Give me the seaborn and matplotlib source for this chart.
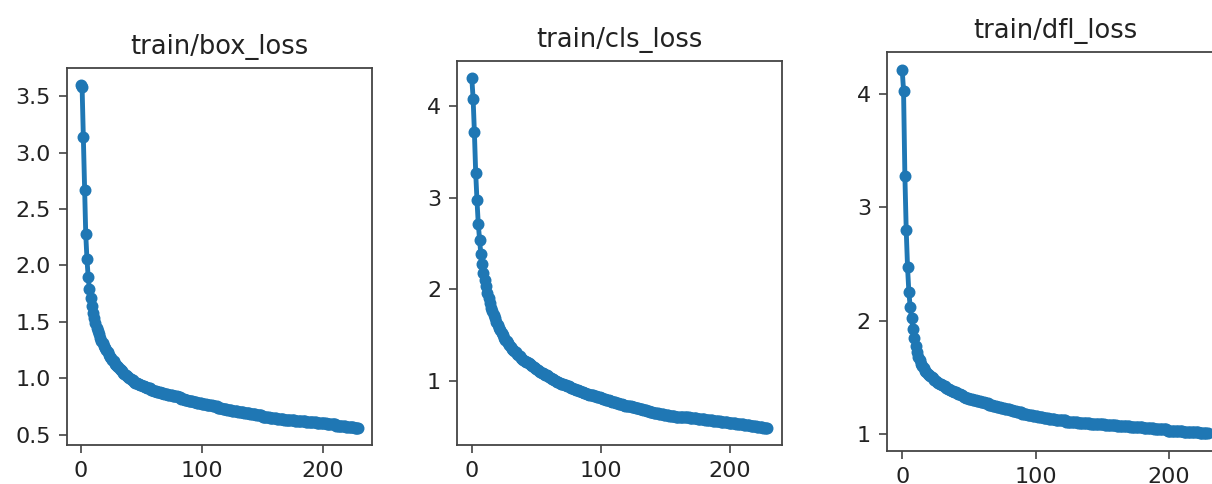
import numpy as np
import matplotlib
matplotlib.use("Agg")
import matplotlib.pyplot as plt
from matplotlib.ticker import MultipleLocator
import seaborn as sns

# valores (una entrada por epoca)
box_loss = [
    3.60, 3.58, 3.14, 2.67, 2.28, 2.06, 1.90, 1.79, 1.71, 1.64, 1.58,
    1.53, 1.49, 1.45, 1.42, 1.39, 1.36, 1.33, 1.31, 1.29, 1.27, 1.25, 1.23,
    1.21, 1.19, 1.18, 1.16, 1.15, 1.13, 1.12, 1.11, 1.10, 1.08, 1.07, 1.06, 1.05, 1.04, 1.03,
    1.02, 1.01, 1.00, 0.99, 0.98, 0.98, 0.97, 0.96, 0.96, 0.95, 0.95, 0.94, 0.94, 0.93, 0.93,
    0.92, 0.92, 0.91, 0.91, 0.91, 0.90, 0.90, 0.89, 0.89, 0.89, 0.88, 0.88, 0.88, 0.87,
    0.87, 0.87, 0.86, 0.86, 0.86, 0.85, 0.85, 0.85, 0.85, 0.84, 0.84, 0.84, 0.84, 0.83, 0.83, 0.83,
    0.82, 0.82, 0.82, 0.81, 0.81, 0.81, 0.80, 0.80, 0.80, 0.80, 0.79, 0.79, 0.79, 0.78, 0.78,
    0.78, 0.78, 0.77, 0.77, 0.77, 0.77, 0.76, 0.76, 0.76, 0.76, 0.76, 0.75,
    0.75, 0.75, 0.75, 0.74, 0.74, 0.74, 0.74, 0.73, 0.73, 0.73, 0.73, 0.72, 0.72, 0.72, 0.72,
    0.71, 0.71, 0.71, 0.71, 0.71, 0.70, 0.70, 0.70, 0.70, 0.70, 0.69, 0.69,
    0.69, 0.69, 0.69, 0.68, 0.68, 0.68, 0.68, 0.68, 0.67, 0.67, 0.67, 0.67, 0.67,
    0.66, 0.66, 0.66, 0.66, 0.66, 0.66, 0.65, 0.65, 0.65, 0.65, 0.65, 0.65, 0.64, 0.64, 0.64,
    0.64, 0.64, 0.64, 0.63, 0.63, 0.63, 0.63, 0.63, 0.63, 0.63, 0.63, 0.63,
    0.62, 0.62, 0.62, 0.62, 0.62, 0.62, 0.62, 0.62, 0.62, 0.61, 0.61, 0.61, 0.61, 0.61, 0.61,
    0.61, 0.61, 0.61, 0.60, 0.60, 0.60, 0.60, 0.60, 0.60, 0.60, 0.60,
    0.59, 0.59, 0.59, 0.59, 0.59, 0.59, 0.59, 0.59, 0.58, 0.58, 0.58, 0.58, 0.58, 0.58, 0.58, 0.58,
    0.57, 0.57, 0.57, 0.57, 0.57, 0.57, 0.57, 0.56, 0.56, 0.56, 0.56,
]

cls_loss = [
    4.30, 4.08, 3.71, 3.27, 2.97, 2.71, 2.54, 2.38, 2.27, 2.18,
    2.10, 2.03, 1.96, 1.90, 1.85, 1.80, 1.76, 1.72, 1.68, 1.64,
    1.61, 1.58, 1.55, 1.52, 1.50, 1.47, 1.45, 1.43, 1.41, 1.39,
    1.37, 1.35, 1.34, 1.32, 1.31, 1.29, 1.28, 1.27, 1.25, 1.24,
    1.23, 1.22, 1.21, 1.20, 1.19,
    1.18, 1.17, 1.16, 1.15, 1.14, 1.13, 1.12, 1.11, 1.10, 1.09, 1.08, 1.07, 1.06,
    1.06, 1.05, 1.04, 1.03, 1.02, 1.02, 1.01, 1.00, 0.99, 0.99, 0.98, 0.97,
    0.96, 0.96, 0.95, 0.95, 0.94, 0.94, 0.93, 0.92, 0.92, 0.91, 0.91, 0.90, 0.90, 0.89, 0.89,
    0.88, 0.88, 0.87, 0.87, 0.86, 0.86, 0.85, 0.85, 0.84, 0.84, 0.83, 0.83, 0.82, 0.82, 0.82, 0.81,
    0.81, 0.80, 0.80, 0.79, 0.79, 0.79, 0.78, 0.78, 0.77, 0.77, 0.77, 0.76, 0.76, 0.75, 0.75, 0.75,
    0.74, 0.74, 0.73, 0.73, 0.73, 0.72, 0.72, 0.71, 0.71, 0.71, 0.70, 0.70, 0.70, 0.69, 0.69, 0.69,
    0.68, 0.68, 0.68, 0.67,
    0.67, 0.66, 0.66, 0.66, 0.65, 0.65, 0.65, 0.65, 0.64, 0.64, 0.64, 0.64, 0.63, 0.63,
    0.63, 0.63, 0.62, 0.62, 0.62, 0.62, 0.62, 0.61, 0.61, 0.61, 0.61, 0.61, 0.60, 0.60, 0.60,
    0.60, 0.60, 0.60, 0.59, 0.59, 0.59, 0.59, 0.59, 0.59, 0.58, 0.58, 0.58, 0.58, 0.58, 0.58,
    0.57, 0.57, 0.57, 0.57, 0.57, 0.57, 0.56, 0.56, 0.56, 0.56, 0.56, 0.56,
    0.55, 0.55, 0.55, 0.55, 0.55, 0.55, 0.54, 0.54, 0.54, 0.54, 0.54, 0.54,
    0.53, 0.53, 0.53, 0.53, 0.53, 0.53, 0.52, 0.52, 0.52, 0.52, 0.52,
    0.51, 0.51, 0.51, 0.51, 0.51, 0.50, 0.50, 0.50, 0.50, 0.50, 0.49, 0.49, 0.49, 0.49,
]

dfl_loss = [
    4.21, 4.03, 3.28, 2.80, 2.47, 2.25, 2.12, 2.02, 1.93, 1.85,
    1.78, 1.72, 1.68, 1.65, 1.62, 1.60, 1.58, 1.56, 1.55, 1.53,
    1.52, 1.51, 1.50, 1.49, 1.48, 1.47, 1.46, 1.45, 1.44, 1.44, 1.43,
    1.42, 1.42, 1.41, 1.40, 1.40, 1.39, 1.38, 1.38, 1.37, 1.37,
    1.36, 1.35, 1.35, 1.34, 1.34, 1.33, 1.33, 1.32, 1.32,
    1.31, 1.31, 1.31, 1.30, 1.30, 1.30, 1.29, 1.29, 1.29, 1.28, 1.28, 1.28,
    1.27, 1.27, 1.27, 1.26, 1.26, 1.26, 1.25, 1.25, 1.25, 1.24, 1.24, 1.24,
    1.23, 1.23, 1.23, 1.22, 1.22, 1.22, 1.22, 1.21, 1.21,
    1.20, 1.20, 1.20, 1.19, 1.19, 1.19, 1.19, 1.18, 1.18, 1.18, 1.18,
    1.17, 1.17, 1.17, 1.17, 1.16, 1.16, 1.16, 1.16, 1.15, 1.15, 1.15, 1.15,
    1.14, 1.14, 1.14, 1.14, 1.13, 1.13, 1.13, 1.13, 1.13,
    1.12, 1.12, 1.12, 1.12, 1.12, 1.12, 1.12, 1.12,
    1.11, 1.11, 1.11, 1.11, 1.11, 1.11, 1.11, 1.11, 1.11,
    1.10, 1.10, 1.10, 1.10, 1.10, 1.10, 1.10, 1.10, 1.10,
    1.09, 1.09, 1.09, 1.09, 1.09, 1.09, 1.09, 1.09, 1.09, 1.09, 1.09,
    1.08, 1.08, 1.08, 1.08, 1.08, 1.08, 1.08, 1.08, 1.08,
    1.07, 1.07, 1.07, 1.07, 1.07, 1.07, 1.07, 1.07, 1.07, 1.07,
    1.06, 1.06, 1.06, 1.06, 1.06, 1.06, 1.06, 1.06, 1.06, 1.06,
    1.05, 1.05, 1.05, 1.05, 1.05, 1.05, 1.05, 1.05,
    1.04, 1.04, 1.04, 1.04, 1.04, 1.04, 1.04, 1.04, 1.04, 1.04,
    1.03, 1.03, 1.03, 1.03, 1.03, 1.03, 1.03, 1.03, 1.03, 1.03, 1.03, 1.03,
    1.02, 1.02, 1.02, 1.02, 1.02, 1.02, 1.02, 1.02, 1.02, 1.02, 1.02, 1.02,
    1.01, 1.01, 1.01, 1.01, 1.01, 1.01, 1.01,
]

titles = ["train/box_loss", "train/cls_loss", "train/dfl_loss"]
series = [box_loss, cls_loss, dfl_loss]
y_steps = [0.5, 1, 1]

sns.set_style("ticks")
plt.rcParams["font.family"] = ["DejaVu Sans"]

fig = plt.figure(figsize=(12.12, 4.84), dpi=100)

# posiciones de los ejes en fraccion de figura (el tercero se sale por la derecha)
boxes = [
    [0.0553, 0.0806, 0.2517, 0.7790],
    [0.3771, 0.0806, 0.2682, 0.7934],
    [0.7318, 0.0682, 0.2772, 0.8244],
]

for vals, title, step, box in zip(series, titles, y_steps, boxes):
    ax = fig.add_axes(box)
    epochs = np.arange(len(vals))
    sns.lineplot(x=epochs, y=vals, ax=ax, color="#1f77b4", marker=".",
                 markersize=14, linewidth=3.5, markeredgecolor="#1f77b4",
                 markeredgewidth=1.6)
    ax.set_title(title, fontsize=18.5, pad=10, color="#222222")
    ax.xaxis.set_major_locator(MultipleLocator(100))
    ax.yaxis.set_major_locator(MultipleLocator(step))
    ax.tick_params(labelsize=16, length=5.5, width=1.1, pad=6,
                   color="#333333", labelcolor="#222222")
    for sp in ax.spines.values():
        sp.set_linewidth(1.3)
        sp.set_color("#444444")
    ax.set_xlabel("")
    ax.set_ylabel("")

fig.savefig("out.png", dpi=100)
